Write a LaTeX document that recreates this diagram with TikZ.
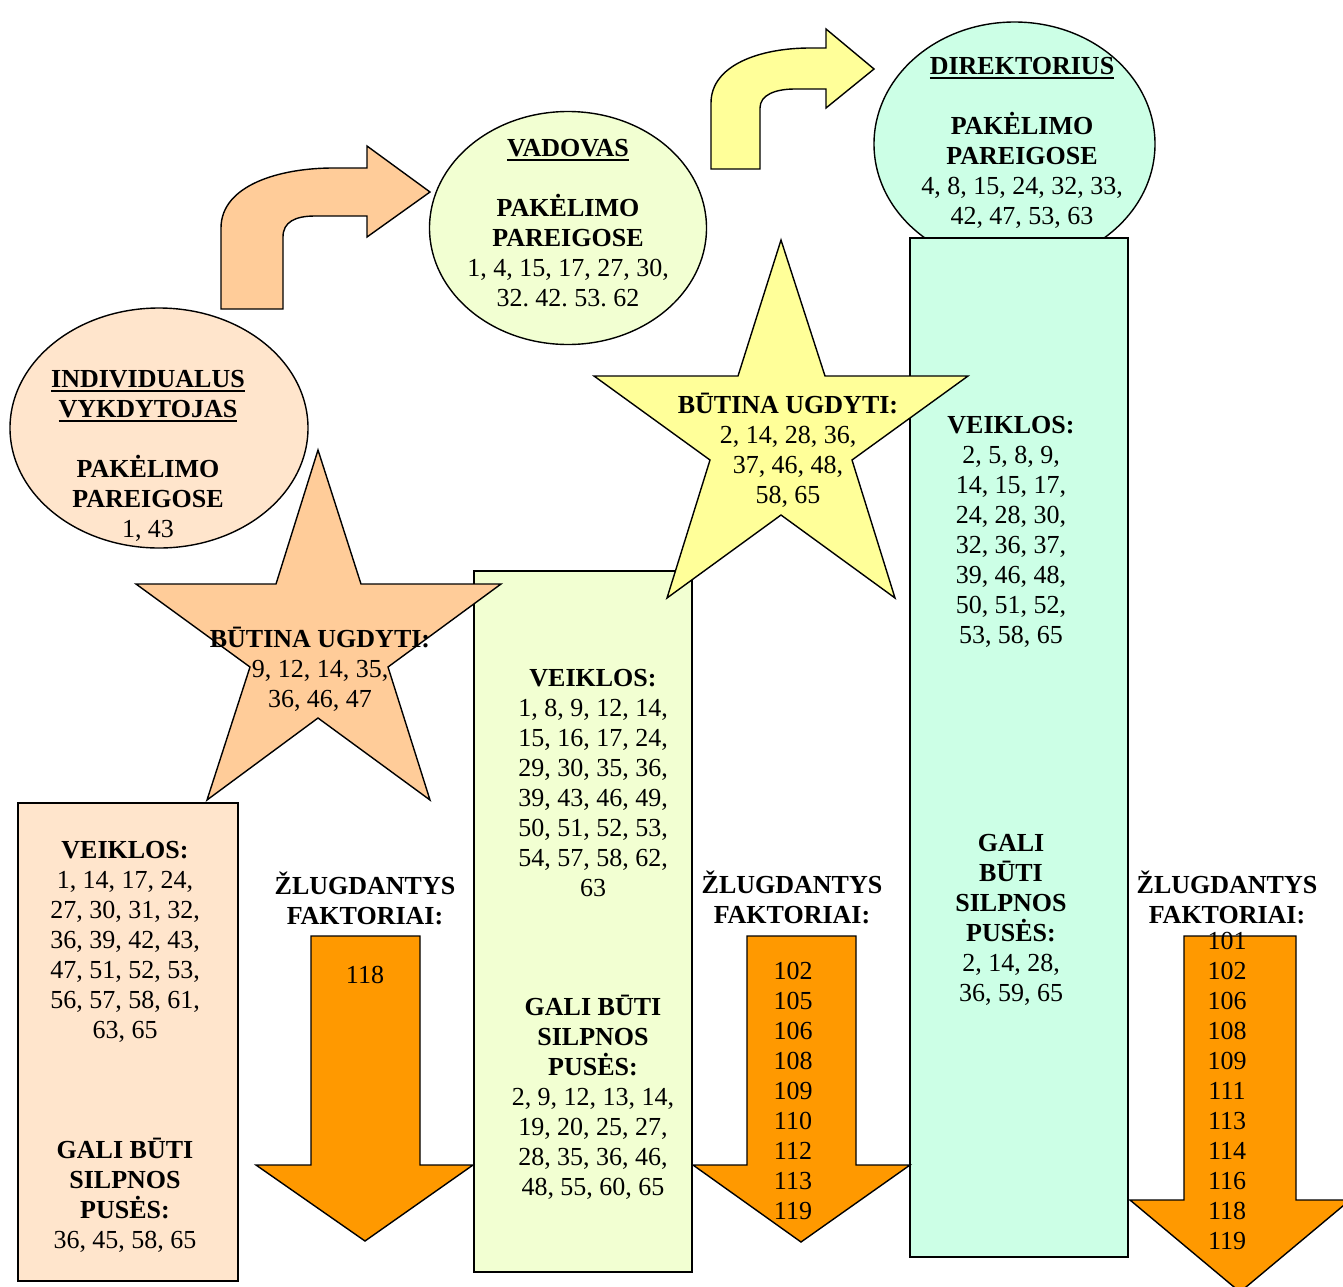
\documentclass[tikz,border=0pt]{standalone}
\usepackage{fontspec}
\setmainfont{Liberation Serif}
\usetikzlibrary{shapes.geometric}
\definecolor{peachlight}{HTML}{FFE5CC}
\definecolor{peach}{HTML}{FFCC99}
\definecolor{limelight}{HTML}{F2FFD2}
\definecolor{softyellow}{HTML}{FFFF99}
\definecolor{mint}{HTML}{CCFFE6}
\definecolor{deeporange}{HTML}{FF9900}
\frenchspacing
% bold title with a firm underline
\newcommand{\roletitle}[1]{\setbox0\hbox{\textbf{#1}}\rlap{\rule[-4.5pt]{\wd0}{2pt}}\box0}
\begin{document}
\begin{tikzpicture}[x=1pt,y=-1pt,
  outline/.style={draw=black, line width=1.4pt, line join=miter},
  panel/.style={outline, rectangle, inner sep=0pt},
  oval/.style={outline, ellipse, inner sep=0pt},
  txt/.style={align=center, inner sep=0pt, font=\fontsize{26}{30}\selectfont},
]
\useasboundingbox (0,0) rectangle (1343,1286);
\clip (0,0) rectangle (1343,1286);

% director level: oval sits behind its column
\node[oval, fill=mint, minimum width=281pt, minimum height=244pt] (dirOval) at (1014.5,144) {};

% columns
\node[panel, fill=peachlight, minimum width=220pt, minimum height=478pt] (col1) at (128,1042) {};
\node[panel, fill=limelight, minimum width=218pt, minimum height=701pt] (col2) at (583,921.5) {};
\node[panel, fill=mint, minimum width=218pt, minimum height=1019pt] (col3) at (1019,747.5) {};

% role ovals
\node[oval, fill=peachlight, minimum width=298pt, minimum height=240pt] (indOval) at (159,428) {};
\node[oval, fill=limelight, minimum width=277pt, minimum height=233pt] (vadOval) at (568,228) {};

% bent promotion arrows
\draw[outline, fill=peach] (221,309) -- (221,228)
  .. controls (221,185) and (280,168) .. (333,168) -- (367,168) -- (367,146)
  -- (430,192) -- (367,237) -- (367,216) -- (315,216)
  .. controls (295,216) and (283,222) .. (283,237) -- (283,309) -- cycle;
\draw[outline, fill=softyellow] (711,169) -- (711,103)
  .. controls (711,65) and (760,48) .. (810,48) -- (826,48) -- (826,29)
  -- (874,69) -- (826,108) -- (826,89) -- (795,89)
  .. controls (775,89) and (760,95) .. (760,108) -- (760,169) -- cycle;

% stars
\draw[outline, fill=peach] (318,450) -- (361,584) -- (501,584) -- (388,667)
  -- (430,800) -- (318,718) -- (207,800) -- (250,667) -- (136,584)
  -- (276,584) -- cycle;
\draw[outline, fill=softyellow] (781,240) -- (825,376) -- (968,376) -- (852,460)
  -- (895,598) -- (781,515) -- (667,598) -- (710,460) -- (594,376)
  -- (738,376) -- cycle;

% downward arrows
\draw[outline, fill=deeporange] (311,936) -- (420,936) -- (420,1165) -- (473,1165)
  -- (365,1241) -- (256,1165) -- (311,1165) -- cycle;
\draw[outline, fill=deeporange] (747,936) -- (856,936) -- (856,1165) -- (910,1165)
  -- (801,1242) -- (693,1165) -- (747,1165) -- cycle;
\draw[outline, fill=deeporange] (1184,936) -- (1296,936) -- (1296,1200) -- (1350,1200)
  -- (1240,1292) -- (1130,1200) -- (1184,1200) -- cycle;

% oval texts
\node[txt] (indText) at (148,456) {\roletitle{INDIVIDUALUS}\\\roletitle{VYKDYTOJAS}\\[30pt]\textbf{PAKĖLIMO}\\\textbf{PAREIGOSE}\\1, 43};
\node[txt] (vadText) at (568,223) {\roletitle{VADOVAS}\\[30pt]\textbf{PAKĖLIMO}\\\textbf{PAREIGOSE}\\1, 4, 15, 17, 27, 30,\\32. 42. 53. 62};
\node[txt] (dirText) at (1022,143) {\roletitle{DIREKTORIUS}\\[30pt]\textbf{PAKĖLIMO}\\\textbf{PAREIGOSE}\\4, 8, 15, 24, 32, 33,\\42, 47, 53, 63};

% star texts
\node[txt] (star1Text) at (320,669) {\textbf{BŪTINA UGDYTI:}\\9, 12, 14, 35,\\36, 46, 47};
\node[txt] (star2Text) at (788,450) {\textbf{BŪTINA UGDYTI:}\\2, 14, 28, 36,\\37, 46, 48,\\58, 65};

% column texts
\node[txt] (col1Act) at (125,942) {\textbf{VEIKLOS:}\\1, 14, 17, 24,\\27, 30, 31, 32,\\36, 39, 42, 43,\\47, 51, 52, 53,\\56, 57, 58, 61,\\63, 65};
\node[txt] (col1Weak) at (125,1195) {\textbf{GALI BŪTI}\\\textbf{SILPNOS}\\\textbf{PUSĖS:}\\36, 45, 58, 65};
\node[txt] (col2Act) at (593,783) {\textbf{VEIKLOS:}\\1, 8, 9, 12, 14,\\15, 16, 17, 24,\\29, 30, 35, 36,\\39, 43, 46, 49,\\50, 51, 52, 53,\\54, 57, 58, 62,\\63};
\node[txt] (col2Weak) at (593,1097) {\textbf{GALI BŪTI}\\\textbf{SILPNOS}\\\textbf{PUSĖS:}\\2, 9, 12, 13, 14,\\19, 20, 25, 27,\\28, 35, 36, 46,\\48, 55, 60, 65};
\node[txt] (col3Act) at (1011,532) {\textbf{VEIKLOS:}\\2, 5, 8, 9,\\14, 15, 17,\\24, 28, 30,\\32, 36, 37,\\39, 46, 48,\\50, 51, 52,\\53, 58, 65};
\node[txt] (col3Weak) at (1011,920) {\textbf{GALI}\\\textbf{BŪTI}\\\textbf{SILPNOS}\\\textbf{PUSĖS:}\\2, 14, 28,\\36, 59, 65};

% failure factor labels and lists
\node[txt] (fail1Head) at (365,898) {\textbf{ŽLUGDANTYS}\\\textbf{FAKTORIAI:}};
\node[txt] (fail1List) at (365,975) {118};
\node[txt] (fail2Head) at (792,897) {\textbf{ŽLUGDANTYS}\\\textbf{FAKTORIAI:}};
\node[txt] (fail2List) at (793,1091) {102\\105\\106\\108\\109\\110\\112\\113\\119};
\node[txt] (fail3Head) at (1227,897) {\textbf{ŽLUGDANTYS}\\\textbf{FAKTORIAI:}};
\node[txt] (fail3List) at (1227,1090.5) {101\\102\\106\\108\\109\\111\\113\\114\\116\\118\\119};
\end{tikzpicture}
\end{document}
